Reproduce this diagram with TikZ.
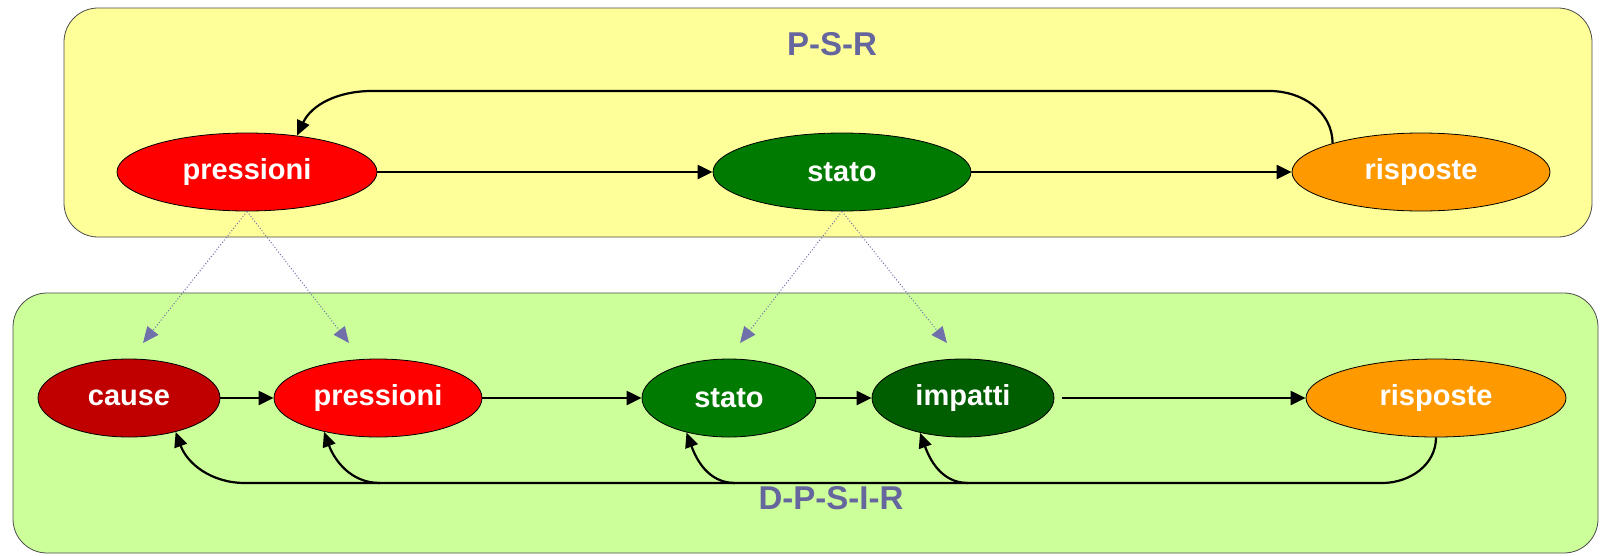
\documentclass[tikz,border=0pt]{standalone}
\usepackage{fontspec}
\setmainfont{Liberation Sans}
\usetikzlibrary{shapes.geometric,arrows.meta}
\definecolor{boxY}{HTML}{FFFF99}
\definecolor{boxG}{HTML}{CCFF99}
\definecolor{cRed}{HTML}{FF0000}
\definecolor{cDRed}{HTML}{C00000}
\definecolor{cGreen}{HTML}{007A00}
\definecolor{cDGreen}{HTML}{005E00}
\definecolor{cOrange}{HTML}{FF9900}
\definecolor{cTitle}{HTML}{66669E}
\definecolor{cDot}{HTML}{7070AA}
\tikzset{
  ell/.style={ellipse, draw=black, line width=0.8pt, inner sep=0pt, minimum height=78pt,
    text=white, font=\fontsize{29}{29}\selectfont\bfseries},
  panel/.style={draw=black!70, line width=0.8pt, rounded corners=34pt},
  flow/.style={line width=2.2pt, -{Triangle[length=15pt,width=14pt]}},
  fb/.style={line width=2.2pt, -{Triangle[length=15pt,width=13pt]}},
  bus/.style={line width=2.2pt},
  map/.style={cDot, line width=1pt, dotted, -{Triangle[length=16pt,width=14pt]}},
  ttl/.style={text=cTitle, font=\fontsize{33}{33}\selectfont\bfseries}
}
\begin{document}
\begin{tikzpicture}[x=1pt,y=-1pt]
\useasboundingbox (0,0) rectangle (1604,555);
% panels
\draw[panel, fill=boxY] (64,8) rectangle (1592,237);
\draw[panel, fill=boxG] (13,293) rectangle (1598,553);
\node[ttl] (t1) at (832,44) {P-S-R};
\node[ttl] (t2) at (831,498) {D-P-S-I-R};
% top row
\node[ell, fill=cRed, minimum width=260pt] (p1) at (247,172) {pressioni};
\node[ell, fill=cGreen, minimum width=258pt] (s1) at (842,172) {stato};
\node[ell, fill=cOrange, minimum width=258pt] (r1) at (1421,172) {risposte};
% bottom row
\node[ell, fill=cDRed, minimum width=182pt] (c2) at (129,398) {cause};
\node[ell, fill=cRed, minimum width=208pt] (p2) at (378,398) {pressioni};
\node[ell, fill=cGreen, minimum width=174pt] (s2) at (729,398) {stato};
\node[ell, fill=cDGreen, minimum width=182pt] (i2) at (963,398) {impatti};
\node[ell, fill=cOrange, minimum width=260pt] (r2) at (1436,398) {risposte};
% top flow
\draw[flow] (p1) -- (s1);
\draw[flow] (s1) -- (r1);
\coordinate (tr) at (1270,91);
\coordinate (tl) at (372,91);
\draw[fb] (r1.162) to[out=90,in=0] (tr) -- (tl) to[out=180,in=65] (p1.36);
% bottom flow
\draw[flow] (c2) -- (p2);
\draw[flow] (p2) -- (s2);
\draw[flow] (s2) -- (i2);
\draw[flow] ([xshift=8pt]i2.east) -- (r2);
% bottom feedback bus
\coordinate (br) at (1382,483);
\coordinate (bl) at (245,483);
\coordinate (bp) at (380,483);
\coordinate (bs) at (735,483);
\coordinate (bi) at (968,483);
\draw[bus] (r2.south) to[out=-90,in=0] (br) -- (bl);
\draw[fb] (bl) to[out=180,in=-70] (c2.-36);
\draw[fb] (bp) to[out=180,in=-70] (p2.-148);
\draw[fb] (bs) to[out=180,in=-70] (s2.-141);
\draw[fb] (bi) to[out=180,in=-70] (i2.-141);
% mapping arrows
\coordinate (m1) at (143,343);
\coordinate (m2) at (349,343);
\coordinate (m3) at (740,343);
\coordinate (m4) at (947,343);
\draw[map] (p1.south) -- (m1);
\draw[map] (p1.south) -- (m2);
\draw[map] (s1.south) -- (m3);
\draw[map] (s1.south) -- (m4);
\end{tikzpicture}
\end{document}
